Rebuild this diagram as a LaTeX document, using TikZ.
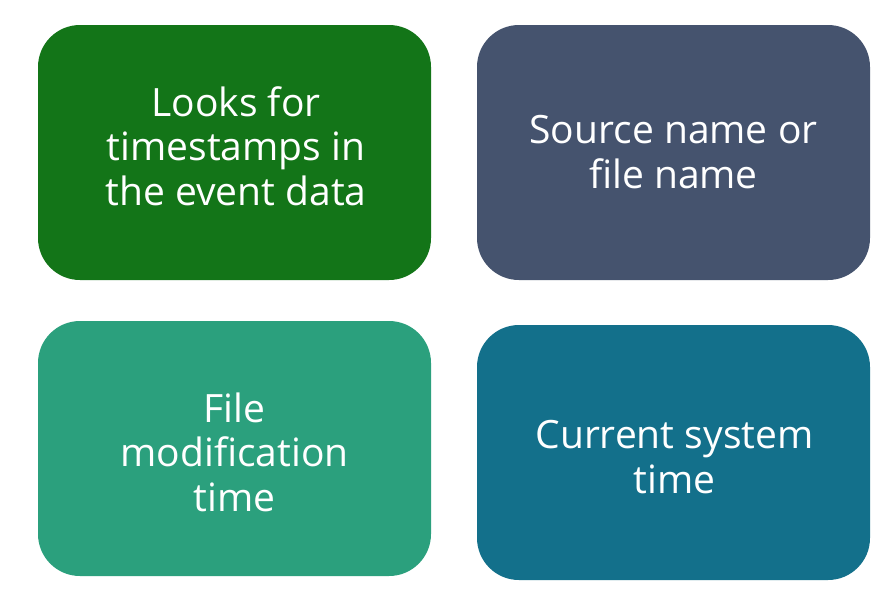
\documentclass[tikz,border=0pt]{standalone}
\usepackage{fontspec}
\setmainfont{Open Sans}
\definecolor{cgreen}{HTML}{137518}
\definecolor{cslate}{HTML}{45536E}
\definecolor{cteal}{HTML}{2BA07D}
\definecolor{cblue}{HTML}{13708B}
\begin{document}
\begin{tikzpicture}[x=1pt,y=-1pt,
  card/.style={rounded corners=42pt, draw=none},
  lbl/.style={text=white, align=center, font=\fontsize{39}{44.5}\selectfont}]
\useasboundingbox (0,0) rectangle (886,598);
\fill[white] (0,0) rectangle (886,598);
\filldraw[card, fill=cgreen] (38,25) rectangle (431,280);
\filldraw[card, fill=cslate] (477,25) rectangle (870,280);
\filldraw[card, fill=cteal] (38,321) rectangle (431,576);
\filldraw[card, fill=cblue] (477,325) rectangle (870,580);
\node[lbl] (a) at (236,146) {Looks for\\timestamps in\\the event data};
\node[lbl] (b) at (673.5,152) {Source name or\\file name};
\node[lbl] (c) at (234.5,452) {File\\modification\\time};
\node[lbl] (d) at (674.5,457) {Current system\\time};
\end{tikzpicture}
\end{document}
